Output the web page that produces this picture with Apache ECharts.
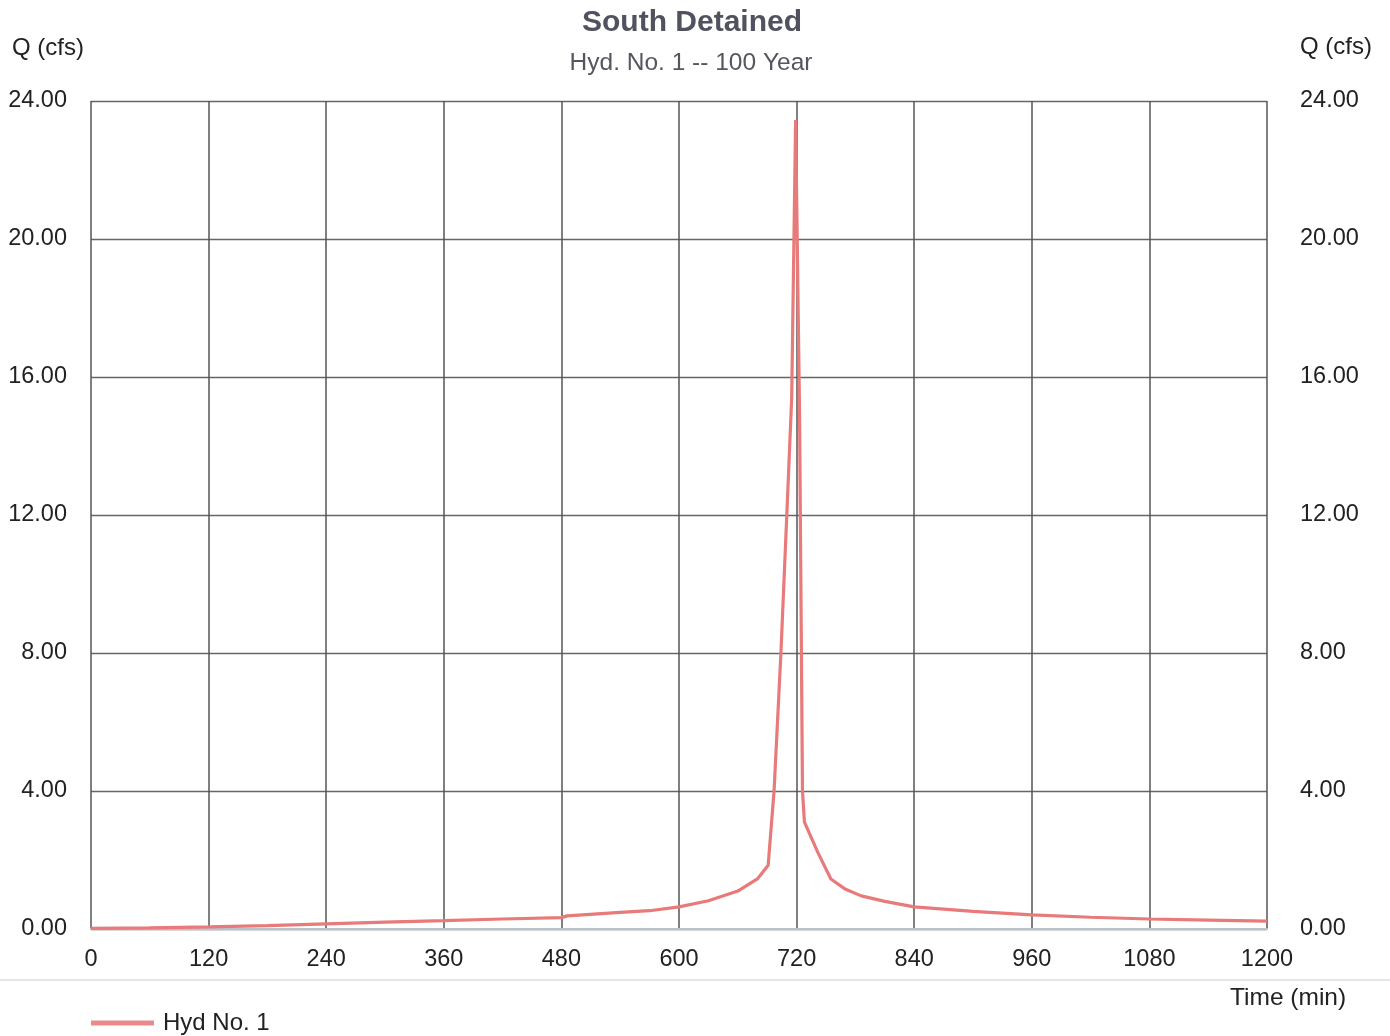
<!DOCTYPE html>
<html>
<head>
<meta charset="utf-8">
<script src="https://cdn.jsdelivr.net/npm/echarts@6/dist/echarts.min.js"></script>
<style>
html,body{margin:0;padding:0;background:#fff;}
#chart{width:1390px;height:1036px;}
</style>
</head>
<body>
<div id="chart"></div>
<script>
const timeMin = [0, 60, 120, 180, 240, 300, 360, 420, 480, 486, 540, 570, 600, 630, 660, 680, 691, 697, 704, 710, 715, 719, 723, 726, 728, 742, 755, 770, 786, 810, 840, 900, 960, 1020, 1080, 1140, 1200];
const flowCfs = [0.02, 0.03, 0.06, 0.10, 0.15, 0.20, 0.24, 0.29, 0.33, 0.38, 0.48, 0.53, 0.64, 0.82, 1.10, 1.45, 1.85, 4.0, 8.0, 12.0, 15.4, 23.45, 15.0, 4.0, 3.1, 2.2, 1.45, 1.15, 0.96, 0.80, 0.64, 0.51, 0.41, 0.34, 0.29, 0.26, 0.23];
const xTicks = [0, 120, 240, 360, 480, 600, 720, 840, 960, 1080, 1200];
const yTicks = [0, 4, 8, 12, 16, 20, 24];
const seriesName = 'Hyd No. 1';
const titleText = 'South Detained';
const subtitleText = 'Hyd. No. 1 -- 100 Year';

const data = timeMin.map((t, i) => [t, flowCfs[i]]);
const font = 'Liberation Sans, Arial, sans-serif';
const chart = echarts.init(document.getElementById('chart'));
const yAxisBase = {
  type: 'value', min: yTicks[0], max: yTicks[yTicks.length - 1], interval: 4,
  axisLine: { show: false }, axisTick: { show: false },
  axisLabel: { formatter: v => v.toFixed(2), fontSize: 23.5, color: '#222', fontFamily: font }
};
chart.setOption({
  animation: false,
  backgroundColor: '#fff',
  title: [
    { text: titleText, left: 687, top: 3, textAlign: 'center',
      textStyle: { fontSize: 30, fontWeight: 'bold', color: '#51525f', fontFamily: font } },
    { text: subtitleText, left: 686, top: 46, textAlign: 'center',
      textStyle: { fontSize: 24.5, fontWeight: 'normal', color: '#555660', fontFamily: font } }
  ],
  grid: { left: 91, right: 123, top: 101, bottom: 107, containLabel: false },
  legend: {
    left: 86, top: 1006, itemWidth: 63, itemHeight: 5, icon: 'rect', itemGap: 12,
    textStyle: { fontSize: 24, color: '#222', fontFamily: font, padding: [0, 0, 0, 4] },
    data: [{ name: seriesName, itemStyle: { color: '#e98b8b' } }]
  },
  xAxis: {
    type: 'value', min: xTicks[0], max: xTicks[xTicks.length - 1], interval: 120,
    axisLine: { show: true, lineStyle: { color: '#b8c4cc', width: 2 } },
    axisTick: { show: false },
    axisLabel: { formatter: v => String(v), fontSize: 23.5, color: '#222', margin: 19, fontFamily: font },
    splitLine: { show: true, lineStyle: { color: '#555', width: 1.5 } }
  },
  yAxis: [
    Object.assign({}, yAxisBase, {
      position: 'left',
      axisLabel: Object.assign({}, yAxisBase.axisLabel, { margin: 24, padding: [8, 0, 0, 0] }),
      splitLine: { show: true, lineStyle: { color: '#666', width: 1.3 } }
    }),
    Object.assign({}, yAxisBase, {
      position: 'right',
      axisLabel: Object.assign({}, yAxisBase.axisLabel, { margin: 33, padding: [4, 0, 0, 0] }),
      splitLine: { show: false }
    })
  ],
  graphic: [
    { type: 'text', left: 12, top: 36, style: { text: 'Q (cfs)', fontSize: 24, fill: '#222', fontFamily: font } },
    { type: 'text', left: 1300, top: 35, style: { text: 'Q (cfs)', fontSize: 24, fill: '#222', fontFamily: font } },
    { type: 'text', left: 1230, top: 986, style: { text: 'Time (min)', fontSize: 24.5, fill: '#222', fontFamily: font } },
    { type: 'line', shape: { x1: 0, y1: 980, x2: 1390, y2: 980 }, style: { stroke: '#e6e6e6', lineWidth: 2 } }
  ],
  series: [{
    name: seriesName, type: 'line', data: data, yAxisIndex: 0,
    showSymbol: false, symbol: 'none',
    lineStyle: { color: '#e87a7a', width: 3.2 },
    itemStyle: { color: '#e98b8b' }
  }]
});
</script>
</body>
</html>
